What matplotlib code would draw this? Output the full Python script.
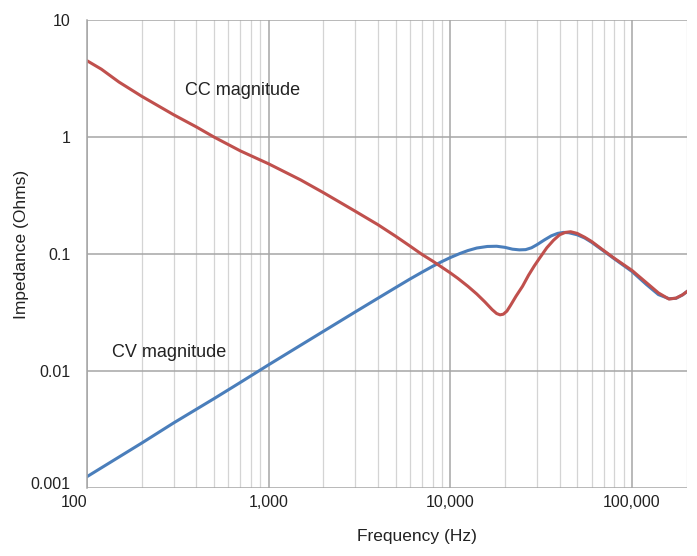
import matplotlib
matplotlib.use("Agg")
import matplotlib.pyplot as plt
import matplotlib.transforms as mtransforms
from matplotlib.ticker import FixedLocator, LogLocator, NullFormatter

plt.rcParams["font.family"] = ["Liberation Sans", "DejaVu Sans"]

# CC magnitude (red)
cc_freq = [100, 120, 150, 200, 300, 400, 500, 700, 1000, 1500, 2000, 3000,
           4000, 5000, 6000, 7000, 8000, 9000, 10000, 11000, 12500, 14000,
           15500, 17000, 18000, 18800, 19600, 20500, 21500, 23000, 25000,
           27000, 29000, 31000, 34000, 37000, 40000, 43000, 46000, 50000,
           55000, 60000, 70000, 80000, 100000, 120000, 140000, 160000,
           175000, 190000, 200000]
cc_mag = [4.49, 3.8, 2.95, 2.23, 1.55, 1.22, 1.0, 0.76, 0.59, 0.43, 0.335,
          0.232, 0.178, 0.142, 0.117, 0.099, 0.087, 0.077, 0.069, 0.062,
          0.053, 0.0455, 0.039, 0.0335, 0.031, 0.0302, 0.0306, 0.0325,
          0.0365, 0.0435, 0.053, 0.066, 0.079, 0.092, 0.113, 0.131, 0.146,
          0.153, 0.155, 0.150, 0.139, 0.128, 0.107, 0.092, 0.0725, 0.057,
          0.0465, 0.0412, 0.042, 0.0448, 0.0475]

# CV magnitude (blue)
cv_freq = [100, 200, 300, 500, 700, 1000, 1500, 2000, 3000, 4000, 5000,
           6000, 7000, 8000, 9000, 10000, 11300, 12500, 14000, 16000, 18000,
           20000, 22000, 24000, 26000, 28000, 30000, 33000, 36000, 39000,
           42000, 45000, 50000, 55000, 60000, 70000, 80000, 100000, 120000,
           140000, 160000, 175000, 190000, 200000]
cv_mag = [0.00125, 0.00242, 0.0036, 0.0058, 0.0080, 0.0113, 0.0166, 0.0218,
          0.032, 0.0419, 0.0516, 0.0611, 0.070, 0.0785, 0.0862, 0.0932,
          0.101, 0.107, 0.1125, 0.116, 0.1165, 0.114, 0.110, 0.1085, 0.109,
          0.113, 0.120, 0.132, 0.143, 0.150, 0.153, 0.152, 0.146, 0.137,
          0.126, 0.106, 0.091, 0.071, 0.055, 0.045, 0.0415, 0.0418, 0.0447,
          0.0475]

x_ticks = [100, 1000, 10000, 100000]
x_labels = ["100", "1,000", "10,000", "100,000"]
y_ticks = [0.001, 0.01, 0.1, 1, 10]
y_labels = ["0.001", "0.01", "0.1", "1", "10"]

RED = "#c0504d"
BLUE = "#4a7ebb"
TXT = "#222222"

fig = plt.figure(figsize=(6.97, 5.56), dpi=100)
ax = fig.add_axes([0.1248, 0.1223, 0.8608, 0.8417])

ax.plot(cv_freq, cv_mag, color=BLUE, lw=2.2)
ax.plot(cc_freq, cc_mag, color=RED, lw=2.2)

ax.set_xscale("log")
ax.set_yscale("log")
ax.set_xlim(100, 2.01e5)
ax.set_ylim(0.001, 10)

ax.xaxis.set_major_locator(FixedLocator(x_ticks))
ax.set_xticklabels(x_labels)
ax.xaxis.set_minor_locator(LogLocator(base=10, subs=range(2, 10)))
ax.xaxis.set_minor_formatter(NullFormatter())
ax.yaxis.set_major_locator(FixedLocator(y_ticks))
ax.set_yticklabels(y_labels)
ax.yaxis.set_minor_locator(FixedLocator([]))

ax.tick_params(which="both", length=0, labelsize=11.5, colors=TXT)
ax.tick_params(axis="y", pad=12)
ax.tick_params(axis="x", pad=5)
ax.get_xticklabels()[0].set_horizontalalignment("right")

# nudge the bottom y label up so it clears "100", as in the original
lab = ax.get_yticklabels()[0]
lab.set_transform(lab.get_transform() +
                  mtransforms.ScaledTranslation(0, 5 / 100, fig.dpi_scale_trans))

ax.grid(which="major", axis="both", color="#a6a6a6", lw=1.1)
ax.grid(which="minor", axis="x", color="#d4d4d4", lw=0.9)
ax.set_axisbelow(True)

for s in ("top", "right", "bottom"):
    ax.spines[s].set_visible(False)
ax.spines["left"].set_color("#a6a6a6")
ax.spines["left"].set_linewidth(1.1)

ax.set_xlabel("Frequency (Hz)", fontsize=12.5, color=TXT)
ax.set_ylabel("Impedance (Ohms)", fontsize=12.5, color=TXT)
ax.xaxis.set_label_coords(0.55, -0.088)
ax.yaxis.set_label_coords(-0.097, 0.52)

ax.text(346, 2.52, "CC magnitude", fontsize=13, va="center", color=TXT)
ax.text(137, 0.01426, "CV magnitude", fontsize=13, va="center", color=TXT)

fig.savefig("out.png", dpi=100)
